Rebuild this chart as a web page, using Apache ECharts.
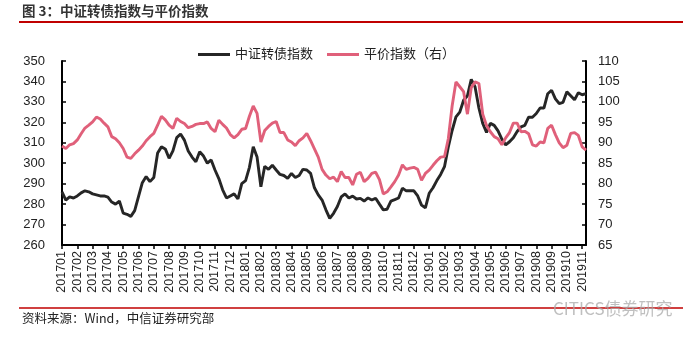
<!DOCTYPE html>
<html>
<head>
<meta charset="utf-8">
<script src="https://cdn.jsdelivr.net/npm/echarts@6/dist/echarts.min.js"></script>
<style>
html,body{margin:0;padding:0;background:#fff;}
#chart{width:700px;height:339px;}
</style>
</head>
<body>
<div id="chart"></div>
<script>
// Month tick labels
const months = ['201701','201702','201703','201704','201705','201706','201707','201708','201709','201710','201711','201712',
  '201801','201802','201803','201804','201805','201806','201807','201808','201809','201810','201811','201812',
  '201901','201902','201903','201904','201905','201906','201907','201908','201909','201910','201911'];

// Weekly readings (4 per month, 2 in the last month)
const cbIndex = [
  286,282,283.5,283,284,285.5,286.5,286,285,284.5,
  284,284,283.4,281,280,281.5,275.6,275,274,276.8,
  283.7,290.5,293.5,291,293,305,308,307,302.4,306,
  312.5,314.3,311.3,306,303,300.7,305.6,303.5,300,301.6,
  296.7,292.5,287,283,284,285,282.5,290,291.5,298,
  308,303,288.5,298.5,297,299,296.7,294.5,294,292.6,
  295,293,294,297,296.7,295,288,284.5,282,277.2,
  273,275.5,278.8,283.5,285,283,283.9,282.5,282.8,281.5,
  283,282,282.9,280,277.2,277.5,281.5,282.2,283,287.8,
  286.5,286.5,286.5,284,279.5,278.2,285.3,288,291.5,294.5,
  298.3,308,316,322.7,325,330.8,333,341,337.3,327,
  319.5,315,319.5,318.5,315.8,311.8,309,310.5,312.5,315.5,
  317.8,318.5,322.5,322.5,324.3,327,327,334,335.7,331.5,
  329.2,329.8,334.9,333,331,334.5,333.5,334
];
const parityIndex = [
  89.2,88.6,89.5,89.8,90.7,92.2,93.6,94.3,95.1,96.3,
  95.8,94.8,93.9,91.5,91,90,88.6,86.5,86.2,87.3,
  88.2,89.2,90.5,91.5,92.3,94.3,96.5,95.6,94.3,93.5,
  96,95.2,94.7,93.7,94,94.5,94.7,94.7,95.1,93.5,
  92.7,95.5,94.5,93.6,92,91.2,92,93.3,93.5,96.5,
  99,97.2,90.2,93,94,94.8,95.2,92.5,92.5,90.7,
  90.2,89.3,90.5,91.2,92.3,90.5,88.5,86.5,83.5,82.1,
  81.2,81.6,80.5,83,81.5,81.5,79.7,82.3,82.8,80.5,
  81.3,82.5,82.8,81,77.5,78,79.2,80.5,82.1,84.6,
  83.5,83.8,84,83.5,80.8,82.5,83.3,84.5,85.6,86.5,
  86.6,91,99,104.9,103.7,102.5,97,103.5,104.9,104.5,
  97,94.2,92.7,91.5,91,89.5,91.2,92.5,94.8,94.8,
  92.7,92.8,92.2,89.5,89.2,90.2,90,93.5,94.3,92,
  90,88.8,89.4,92.3,92.5,91.8,89,88.2
];

const seriesNames = ['中证转债指数', '平价指数（右）'];
const titleText = '图 3：中证转债指数与平价指数';
const sourceText = '资料来源：Wind，中信证券研究部';

// build weekly categories
const categories = [];
for (let i = 0; i < cbIndex.length; i++) {
  const m = months[Math.floor(i / 4)];
  categories.push(m + '-' + (i % 4 + 1));
}

const FONT = '"Liberation Sans", Arial, "Noto Sans CJK SC", sans-serif';
const chart = echarts.init(document.getElementById('chart'), null, {renderer: 'canvas'});
chart.setOption({
  animation: false,
  backgroundColor: '#fff',
  textStyle: {fontFamily: FONT},
  grid: {left: 62, right: 114, top: 61, bottom: 94, containLabel: false},
  legend: {
    left: 193, top: 43, itemGap: 14, itemWidth: 32, itemHeight: 3,
    icon: 'rect',
    textStyle: {fontSize: 13, color: '#222', fontFamily: FONT},
    data: seriesNames
  },
  xAxis: {
    type: 'category', data: categories, boundaryGap: false,
    axisLine: {lineStyle: {color: '#000', width: 2}},
    axisTick: {show: true, interval: 3, length: 4, lineStyle: {color: '#000', width: 1.5}},
    axisLabel: {
      interval: 3, rotate: 90, margin: 6, fontSize: 12.5, color: '#222', fontFamily: FONT,
      formatter: v => v.slice(0, 6)
    },
    splitLine: {show: false}
  },
  yAxis: [
    {
      type: 'value', min: 260, max: 350, interval: 10,
      axisLine: {show: true, lineStyle: {color: '#000', width: 2}},
      axisTick: {show: true, inside: true, length: 4, lineStyle: {color: '#000', width: 1.5}},
      axisLabel: {fontSize: 13, color: '#222', margin: 17, fontFamily: FONT},
      splitLine: {show: false}
    },
    {
      type: 'value', min: 65, max: 110, interval: 5, position: 'right',
      axisLine: {show: true, lineStyle: {color: '#000', width: 2}},
      axisTick: {show: true, inside: true, length: 4, lineStyle: {color: '#000', width: 1.5}},
      axisLabel: {fontSize: 13, color: '#222', margin: 12, fontFamily: FONT},
      splitLine: {show: false}
    }
  ],
  series: [
    {
      name: seriesNames[0], type: 'line', data: cbIndex, yAxisIndex: 0,
      showSymbol: false, symbol: 'none',
      lineStyle: {color: '#262626', width: 2.9},
      itemStyle: {color: '#262626'}
    },
    {
      name: seriesNames[1], type: 'line', data: parityIndex, yAxisIndex: 1,
      showSymbol: false, symbol: 'none',
      lineStyle: {color: '#E0607A', width: 2.9},
      itemStyle: {color: '#E0607A'}
    }
  ],
  graphic: [
    {type: 'text', left: 22, top: 4, style: {text: titleText, fontSize: 13.5, fontWeight: 'bold', fill: '#333', fontFamily: '"Noto Sans CJK SC", sans-serif'}},
    {type: 'line', shape: {x1: 19, y1: 22, x2: 683, y2: 22}, style: {stroke: '#C00000', lineWidth: 2}},
    {type: 'line', shape: {x1: 19, y1: 308, x2: 683, y2: 308}, style: {stroke: '#C00000', lineWidth: 1.5}},
    {type: 'text', left: 22, top: 312, style: {text: sourceText, fontSize: 12.5, fill: '#222', fontFamily: '"Noto Sans CJK SC", sans-serif'}},
    {type: 'text', left: 553, top: 300, style: {text: 'CITICS债券研究', fontSize: 17, fill: 'rgba(170,170,170,0.75)', fontFamily: '"Noto Sans CJK SC", sans-serif'}}
  ]
});
</script>
</body>
</html>
